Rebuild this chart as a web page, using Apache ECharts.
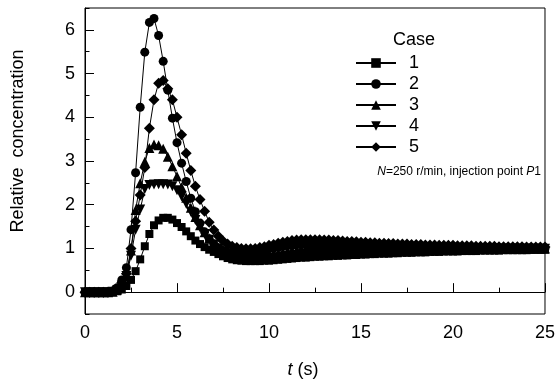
<!DOCTYPE html>
<html>
<head>
<meta charset="utf-8">
<script src="https://cdn.jsdelivr.net/npm/echarts@6/dist/echarts.min.js"></script>
<style>
  html, body { margin: 0; padding: 0; background: #fff; }
  #chart { width: 558px; height: 387px; }
</style>
</head>
<body>
<div id="chart"></div>
<script>
// time axis (s), sampled every 0.25 s
const times = [
  0, 0.25, 0.5, 0.75, 1, 1.25, 1.5, 1.75,
  2, 2.25, 2.5, 2.75, 3, 3.25, 3.5, 3.75,
  4, 4.25, 4.5, 4.75, 5, 5.25, 5.5, 5.75,
  6, 6.25, 6.5, 6.75, 7, 7.25, 7.5, 7.75,
  8, 8.25, 8.5, 8.75, 9, 9.25, 9.5, 9.75,
  10, 10.25, 10.5, 10.75, 11, 11.25, 11.5, 11.75,
  12, 12.25, 12.5, 12.75, 13, 13.25, 13.5, 13.75,
  14, 14.25, 14.5, 14.75, 15, 15.25, 15.5, 15.75,
  16, 16.25, 16.5, 16.75, 17, 17.25, 17.5, 17.75,
  18, 18.25, 18.5, 18.75, 19, 19.25, 19.5, 19.75,
  20, 20.25, 20.5, 20.75, 21, 21.25, 21.5, 21.75,
  22, 22.25, 22.5, 22.75, 23, 23.25, 23.5, 23.75,
  24, 24.25, 24.5, 24.75, 25
];

const case1 = [
  0, 0, 0, 0, 0, 0, 0, 0.02,
  0.06, 0.14, 0.28, 0.48, 0.75, 1.05, 1.33, 1.53,
  1.64, 1.70, 1.70, 1.66, 1.58, 1.49, 1.39, 1.28,
  1.18, 1.10, 1.03, 0.97, 0.92, 0.87, 0.82, 0.78,
  0.75, 0.73, 0.72, 0.71, 0.71, 0.71, 0.71, 0.72,
  0.72, 0.73, 0.74, 0.75, 0.76, 0.77, 0.78, 0.79,
  0.79, 0.80, 0.81, 0.81, 0.82, 0.82, 0.83, 0.83,
  0.84, 0.84, 0.85, 0.85, 0.86, 0.86, 0.87, 0.87,
  0.88, 0.88, 0.88, 0.89, 0.89, 0.90, 0.90, 0.90,
  0.91, 0.91, 0.91, 0.92, 0.92, 0.92, 0.93, 0.93,
  0.93, 0.93, 0.94, 0.94, 0.94, 0.94, 0.95, 0.95,
  0.95, 0.95, 0.95, 0.96, 0.96, 0.96, 0.96, 0.96,
  0.96, 0.97, 0.97, 0.97, 0.97
];

const case2 = [
  0, 0, 0, 0, 0, 0, 0.02, 0.10,
  0.28, 0.56, 1.43, 2.73, 4.23, 5.49, 6.17, 6.26,
  5.87, 5.28, 4.62, 3.98, 3.42, 2.95, 2.53, 2.15,
  1.84, 1.58, 1.38, 1.22, 1.10, 1.01, 0.95, 0.91,
  0.89, 0.88, 0.88, 0.89, 0.91, 0.93, 0.95, 0.97,
  0.99, 1.01, 1.03, 1.05, 1.06, 1.07, 1.08, 1.09,
  1.10, 1.10, 1.10, 1.10, 1.10, 1.10, 1.09, 1.09,
  1.09, 1.08, 1.08, 1.08, 1.07, 1.07, 1.07, 1.06,
  1.06, 1.06, 1.06, 1.05, 1.05, 1.05, 1.05, 1.05,
  1.04, 1.04, 1.04, 1.04, 1.04, 1.03, 1.03, 1.03,
  1.03, 1.03, 1.03, 1.02, 1.02, 1.02, 1.02, 1.02,
  1.02, 1.02, 1.01, 1.01, 1.01, 1.01, 1.01, 1.01,
  1.01, 1.01, 1.00, 1.00, 1.00
];

const case3 = [
  0, 0, 0, 0, 0, 0, 0.01, 0.06,
  0.18, 0.35, 0.95, 1.88, 2.49, 2.98, 3.30, 3.38,
  3.36, 3.28, 3.10, 2.88, 2.65, 2.40, 2.16, 1.93,
  1.72, 1.53, 1.37, 1.23, 1.11, 1.02, 0.95, 0.90,
  0.86, 0.83, 0.82, 0.81, 0.81, 0.81, 0.82, 0.83,
  0.85, 0.87, 0.89, 0.91, 0.93, 0.95, 0.96, 0.98,
  0.99, 1.00, 1.01, 1.01, 1.02, 1.02, 1.02, 1.02,
  1.02, 1.02, 1.02, 1.02, 1.02, 1.02, 1.02, 1.02,
  1.02, 1.02, 1.01, 1.01, 1.01, 1.01, 1.01, 1.01,
  1.01, 1.01, 1.01, 1.01, 1.01, 1.01, 1.01, 1.01,
  1.01, 1.01, 1.00, 1.00, 1.00, 1.00, 1.00, 1.00,
  1.00, 1.00, 1.00, 1.00, 1.00, 1.00, 1.00, 1.00,
  1.00, 1.00, 1.00, 1.00, 1.00
];

const case4 = [
  0, 0, 0, 0, 0, 0, 0.01, 0.05,
  0.15, 0.37, 0.83, 1.43, 1.89, 2.36, 2.45, 2.46,
  2.47, 2.47, 2.46, 2.42, 2.33, 2.19, 2.02, 1.84,
  1.65, 1.48, 1.33, 1.20, 1.09, 1.00, 0.93, 0.87,
  0.83, 0.80, 0.78, 0.76, 0.76, 0.76, 0.76, 0.77,
  0.78, 0.79, 0.80, 0.82, 0.83, 0.84, 0.85, 0.86,
  0.87, 0.88, 0.89, 0.90, 0.90, 0.91, 0.91, 0.92,
  0.92, 0.93, 0.93, 0.94, 0.94, 0.94, 0.95, 0.95,
  0.95, 0.95, 0.96, 0.96, 0.96, 0.96, 0.97, 0.97,
  0.97, 0.97, 0.97, 0.97, 0.98, 0.98, 0.98, 0.98,
  0.98, 0.98, 0.98, 0.98, 0.98, 0.99, 0.99, 0.99,
  0.99, 0.99, 0.99, 0.99, 0.99, 0.99, 0.99, 0.99,
  0.99, 0.99, 0.99, 0.99, 0.99
];

const case5 = [
  0, 0, 0, 0, 0, 0, 0.02, 0.08,
  0.22, 0.42, 1.00, 1.62, 2.22, 2.85, 3.75, 4.40,
  4.78, 4.84, 4.65, 4.40, 4.00, 3.60, 3.18, 2.78,
  2.42, 2.12, 1.85, 1.60, 1.42, 1.28, 1.17, 1.10,
  1.05, 1.02, 1.00, 0.99, 0.99, 1.00, 1.02, 1.04,
  1.07, 1.09, 1.12, 1.14, 1.16, 1.18, 1.19, 1.20,
  1.20, 1.20, 1.20, 1.20, 1.19, 1.19, 1.18, 1.18,
  1.17, 1.16, 1.16, 1.15, 1.14, 1.14, 1.13, 1.13,
  1.12, 1.12, 1.11, 1.11, 1.10, 1.10, 1.10, 1.09,
  1.09, 1.09, 1.08, 1.08, 1.08, 1.07, 1.07, 1.07,
  1.07, 1.06, 1.06, 1.06, 1.06, 1.05, 1.05, 1.05,
  1.05, 1.05, 1.04, 1.04, 1.04, 1.04, 1.04, 1.04,
  1.03, 1.03, 1.03, 1.03, 1.03
];

const caseNames = ["1", "2", "3", "4", "5"];
const yMajorTicks = [0, 1, 2, 3, 4, 5, 6];
const yMinorTicks = [-0.5, 0.5, 1.5, 2.5, 3.5, 4.5, 5.5, 6.5];

const FONT = "Liberation Sans, Arial, sans-serif";

const chart = echarts.init(document.getElementById("chart"));

const pair = (vals) => times.map((t, i) => [t, vals[i]]);

// marker style per case
const markers = [
  { symbol: "rect", size: 8, rotate: 0 },
  { symbol: "circle", size: 9, rotate: 0 },
  { symbol: "triangle", size: 10, rotate: 0 },
  { symbol: "triangle", size: 10, rotate: 180 },
  { symbol: "diamond", size: 11, rotate: 0 },
];

const allCases = [case1, case2, case3, case4, case5];

const series = allCases.map((vals, i) => ({
  name: caseNames[i],
  type: "line",
  data: pair(vals),
  symbol: markers[i].symbol,
  symbolSize: markers[i].size,
  symbolRotate: markers[i].rotate,
  showSymbol: true,
  lineStyle: { color: "#000", width: 1 },
  itemStyle: { color: "#000", borderWidth: 0 },
  emphasis: { disabled: true },
}));

const option = {
  backgroundColor: "#fff",
  animation: false,
  textStyle: { fontFamily: FONT },
  grid: {
    left: 85,
    right: 12,
    top: 8,
    bottom: 73,
    show: true,
    borderColor: "#000",
    borderWidth: 1,
    backgroundColor: "transparent",
  },
  legend: {
    orient: "vertical",
    left: 350,
    top: 49,
    itemWidth: 40,
    itemHeight: 12,
    itemGap: 3,
    data: caseNames,
    textStyle: { color: "#000", fontSize: 18, fontFamily: FONT, padding: [0, 0, 0, 8] },
    selectedMode: false,
  },
  xAxis: {
    type: "value",
    min: 0,
    max: 25,
    interval: 5,
    axisLine: { lineStyle: { color: "#000", width: 1 } },
    axisTick: { inside: true, length: 9, lineStyle: { color: "#000" } },
    minorTick: { show: true, splitNumber: 2, length: 4.5, lineStyle: { color: "#000" } },
    axisLabel: { color: "#000", fontSize: 18, fontFamily: FONT, margin: 10 },
    splitLine: { show: false },
  },
  yAxis: [
    {
      type: "value",
      min: -0.5,
      max: 6.5,
      axisLine: { show: true, lineStyle: { color: "#000", width: 1 } },
      axisTick: { show: true, inside: true, length: 9, customValues: yMajorTicks, lineStyle: { color: "#000" } },
      axisLabel: { color: "#000", fontSize: 18, fontFamily: FONT, margin: 10, customValues: yMajorTicks },
      splitLine: { show: false },
    },
    {
      type: "value",
      min: -0.5,
      max: 6.5,
      position: "left",
      axisLine: { show: false },
      axisTick: { show: true, inside: true, length: 4.5, customValues: yMinorTicks, lineStyle: { color: "#000" } },
      axisLabel: { show: false },
      splitLine: { show: false },
    },
  ],
  graphic: [
    {
      type: "text",
      x: 18,
      y: 141,
      rotation: Math.PI / 2,
      style: {
        text: "Relative  concentration",
        font: "18px " + FONT,
        fill: "#000",
        align: "center",
        verticalAlign: "middle",
      },
    },
    {
      type: "text",
      x: 303,
      y: 370,
      style: {
        text: "{i|t} (s)",
        font: "18px " + FONT,
        fill: "#000",
        align: "center",
        verticalAlign: "middle",
        rich: { i: { font: "italic 18px " + FONT } },
      },
    },
    {
      type: "text",
      x: 414,
      y: 40,
      style: {
        text: "Case",
        font: "18px " + FONT,
        fill: "#000",
        align: "center",
        verticalAlign: "middle",
      },
    },
    {
      type: "text",
      x: 541,
      y: 172,
      style: {
        text: "{i|N}=250 r/min, injection point {i|P}1",
        font: "12px " + FONT,
        fill: "#000",
        align: "right",
        verticalAlign: "middle",
        rich: { i: { font: "italic 12px " + FONT } },
      },
    },
  ],
  series: series,
};

chart.setOption(option);
</script>
</body>
</html>
